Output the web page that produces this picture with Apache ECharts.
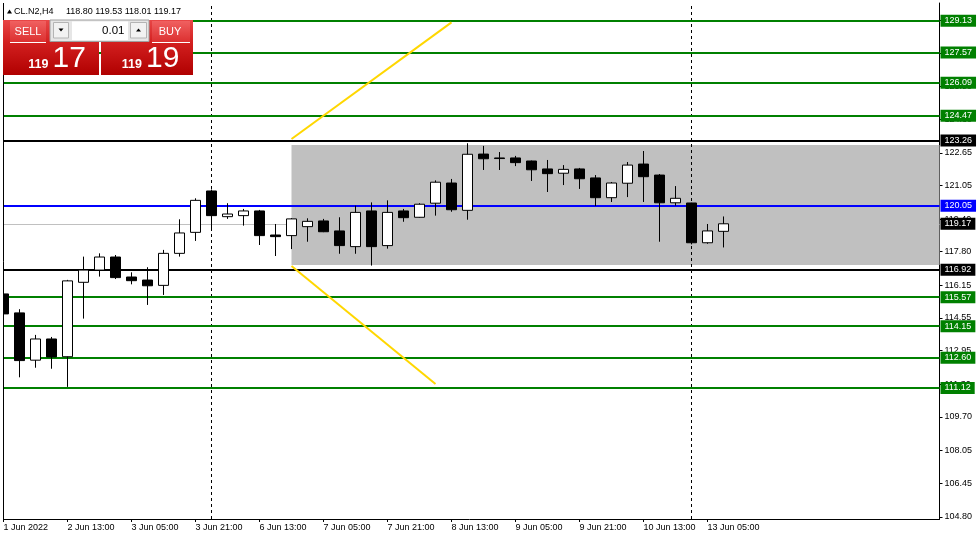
<!DOCTYPE html>
<html><head><meta charset="utf-8">
<script src="https://cdn.jsdelivr.net/npm/echarts@6/dist/echarts.min.js"></script>
<style>html,body{margin:0;padding:0;background:#fff}#c{width:979px;height:540px}</style>
</head><body><div id="c"></div>
<script>
// ---- data ----
const categories = [
 '1 Jun 21:00',
 '2 Jun 01:00','2 Jun 05:00','2 Jun 09:00','2 Jun 13:00','2 Jun 17:00','2 Jun 21:00',
 '3 Jun 01:00','3 Jun 05:00','3 Jun 09:00','3 Jun 13:00','3 Jun 17:00','3 Jun 21:00',
 '6 Jun 01:00','6 Jun 05:00','6 Jun 09:00','6 Jun 13:00','6 Jun 17:00','6 Jun 21:00',
 '7 Jun 01:00','7 Jun 05:00','7 Jun 09:00','7 Jun 13:00','7 Jun 17:00','7 Jun 21:00',
 '8 Jun 01:00','8 Jun 05:00','8 Jun 09:00','8 Jun 13:00','8 Jun 17:00','8 Jun 21:00',
 '9 Jun 01:00','9 Jun 05:00','9 Jun 09:00','9 Jun 13:00','9 Jun 17:00','9 Jun 21:00',
 '10 Jun 01:00','10 Jun 05:00','10 Jun 09:00','10 Jun 13:00','10 Jun 17:00','10 Jun 21:00',
 '13 Jun 01:00','13 Jun 05:00','13 Jun 09:00','13 Jun 13:00','13 Jun 17:00','13 Jun 21:00',
 '14 Jun 01:00','14 Jun 05:00','14 Jun 09:00','14 Jun 13:00','14 Jun 17:00','14 Jun 21:00',
 '15 Jun 01:00','15 Jun 05:00','15 Jun 09:00','15 Jun 13:00'
];
const opens  = [115.73,114.80,112.48,113.52,112.65,116.30,116.90,117.54,116.56,116.41,116.15,117.72,118.75,120.78,119.52,119.57,119.80,118.62,118.59,119.03,119.31,118.82,118.05,119.80,118.10,119.80,119.49,120.18,121.17,119.83,122.59,122.40,122.40,122.25,121.86,121.65,121.86,121.42,120.45,121.16,122.10,121.56,120.20,120.19,118.24,118.80];
const highs  = [116.12,114.98,113.72,113.62,116.42,117.56,117.72,117.64,116.79,117.04,117.89,119.39,120.42,120.85,120.18,119.90,119.85,119.16,119.45,119.44,119.41,119.49,120.06,120.22,120.32,119.90,120.18,121.30,121.37,123.12,122.99,122.69,122.50,122.27,122.30,122.05,121.91,121.56,121.22,122.20,122.74,121.61,121.02,120.20,119.16,119.53];
const lows   = [114.60,111.64,112.11,112.06,111.17,114.52,116.58,116.46,116.20,115.19,115.68,117.56,118.33,118.92,119.41,119.08,118.13,117.59,117.93,118.29,118.76,117.70,117.70,117.12,117.95,119.27,119.47,119.57,119.76,119.37,121.81,121.81,122.00,121.27,120.73,121.07,120.88,120.04,120.24,120.48,120.24,118.29,120.06,118.16,118.19,118.01];
const closes = [114.75,112.46,113.52,112.64,116.37,116.90,117.54,116.53,116.38,116.13,117.72,118.72,120.32,119.57,119.65,119.80,118.59,118.54,119.41,119.29,118.78,118.10,119.73,118.05,119.73,119.47,120.13,121.21,119.86,122.58,122.36,122.37,122.17,121.82,121.63,121.84,121.38,120.45,121.17,122.05,121.48,120.20,120.42,118.24,118.82,119.17];

const xTickIndex  = [0,4,8,12,16,20,24,28,32,36,40,44];
const xTickLabels = ['1 Jun 2022','2 Jun 13:00','3 Jun 05:00','3 Jun 21:00','6 Jun 13:00','7 Jun 05:00','7 Jun 21:00','8 Jun 13:00','9 Jun 05:00','9 Jun 21:00','10 Jun 13:00','13 Jun 05:00'];
const yTickValues = [104.80,106.45,108.05,109.70,111.30,112.95,114.55,116.15,117.80,119.40,121.05,122.65,124.30,125.90,127.55,129.15];

const greenLevels = [129.13,127.57,126.09,124.47,115.57,114.15,112.60,111.12];
const blackLevels = [123.26,116.92];
const blueLevel = 120.05;
const bidPrice = 119.17;
const askPrice = 119.19;
const boxStartIndex = 18;
const boxTop = 123.03;
const boxBottom = 117.15;
const separatorIndex = [13,43];
const trendUpper = [[18,123.33],[28,129.05]];
const trendLower = [[18,117.10],[27,111.31]];
const symbolTitle = 'CL.N2,H4';
const lastOHLC = [118.80,119.53,118.01,119.17];

// ---- chart ----
const FONT = 'Liberation Sans';
const chart = echarts.init(document.getElementById('c'), null, {renderer:'canvas'});
const candleData = opens.map((o,i)=>[o, closes[i], lows[i], highs[i]]);

const levelLines = [];
levelLines.push({yAxis: bidPrice, lineStyle:{color:'#c0c0c0', width:1, type:'solid'}, label:{backgroundColor:'#000'}});
greenLevels.forEach(v=>levelLines.push({yAxis:v, lineStyle:{color:'#008000', width:2, type:'solid'}, label:{backgroundColor:'#008000'}}));
blackLevels.forEach(v=>levelLines.push({yAxis:v, lineStyle:{color:'#000000', width:2, type:'solid'}, label:{backgroundColor:'#000'}}));
levelLines.push({yAxis: blueLevel, lineStyle:{color:'#0000ff', width:2, type:'solid'}, label:{backgroundColor:'#0000ff'}});

const redGrad = () => new echarts.graphic.LinearGradient(0,0,0,1,[{offset:0,color:'#e84646'},{offset:0.4,color:'#d32020'},{offset:1,color:'#b00000'}]);
const btnGrad = () => new echarts.graphic.LinearGradient(0,0,0,1,[{offset:0,color:'#f06060'},{offset:1,color:'#dc3030'}]);

const option = {
  animation: false,
  backgroundColor: '#ffffff',
  grid: {left: -4.5, right: 39.5, top: 3, bottom: 21, containLabel: false, outerBoundsMode: 'none'},
  xAxis: {
    type: 'category', data: categories, boundaryGap: true,
    axisLine: {show: true, lineStyle: {color:'#000', width:1}},
    axisTick: {show: true, alignWithLabel: true, length: 3, interval: (i)=>xTickIndex.includes(i), lineStyle:{color:'#000'}},
    axisLabel: {show: true, interval: (i)=>xTickIndex.includes(i), align:'left', margin: 4,
      formatter: (v,i)=>{const k = xTickIndex.indexOf(i); return k>=0 ? xTickLabels[k] : '';},
      color:'#000', fontSize: 9, fontFamily: FONT, hideOverlap: false},
    splitLine: {show:false}
  },
  yAxis: {
    type: 'value', position: 'right', min: 104.69, max: 130.0, scale: true,
    axisLine: {show: true, lineStyle: {color:'#000', width:1}},
    axisTick: {show: true, length: 3, customValues: yTickValues, lineStyle:{color:'#000'}},
    axisLabel: {show: true, customValues: yTickValues, formatter: v=>Number(v).toFixed(2), color:'#000', fontSize: 9, fontFamily: FONT, margin: 5},
    splitLine: {show:false}
  },
  series: [
    {
      type: 'line', data: [], z: 1, clip: false, silent: true,
      markArea: {
        silent: true, z: 1,
        itemStyle: {color:'#c0c0c0', opacity: 1},
        label: {show:false},
        data: [[{xAxis: categories[boxStartIndex], yAxis: boxTop}, {yAxis: boxBottom}]]
      },
      markLine: {
        silent: true, z: 1, symbol: ['none','none'],
        label: {show:false},
        lineStyle: {color:'#000', width:1, type:[3,3]},
        data: separatorIndex.map(i=>({xAxis: categories[i]}))
      }
    },
    {
      type: 'line', data: [], z: 2, clip: false, silent: true,
      markLine: {
        silent: true, z: 2, symbol: ['none','none'],
        label: {show:true, position:'end', distance: 1, color:'#fff', fontSize: 9, fontFamily: FONT,
                padding:[2,4,1,4], formatter: p=>Number(p.value).toFixed(2)},
        data: levelLines
      }
    },
    {
      type: 'line', data: [], z: 2, clip: false, silent: true,
      markLine: {
        silent: true, z: 2, symbol: ['none','none'],
        label: {show:false},
        lineStyle: {color:'#ffd700', width:2, type:'solid'},
        data: [
          [{coord:[categories[trendUpper[0][0]], trendUpper[0][1]]},{coord:[categories[trendUpper[1][0]], trendUpper[1][1]]}],
          [{coord:[categories[trendLower[0][0]], trendLower[0][1]]},{coord:[categories[trendLower[1][0]], trendLower[1][1]]}]
        ]
      }
    },
    {
      type: 'candlestick', data: candleData, z: 3, barWidth: 10, silent: true,
      itemStyle: {color:'#ffffff', color0:'#000000', borderColor:'#000000', borderColor0:'#000000', borderColorDoji:'#000000', borderWidth: 1}
    }
  ],
  graphic: [
    {type:'rect', z:100, silent:true, shape:{x:0,y:0,width:3,height:522}, style:{fill:'#fff'}},
    {type:'line', z:101, silent:true, shape:{x1:3.5,y1:3,x2:3.5,y2:519.5}, style:{stroke:'#000', lineWidth:1}},
    // title
    {type:'polygon', z:110, silent:true, shape:{points:[[7,13.5],[12,13.5],[9.5,9.5]]}, style:{fill:'#000'}},
    {type:'text', z:110, silent:true, x:14, y:11.5, style:{text:symbolTitle, font:'9px "Liberation Sans"', fill:'#000', verticalAlign:'middle'}},
    {type:'text', z:110, silent:true, x:66, y:11.5, style:{text:lastOHLC.map(v=>v.toFixed(2)).join(' '), font:'9px "Liberation Sans"', fill:'#000', verticalAlign:'middle'}},
    // sell panel
    {type:'rect', z:110, silent:true, shape:{x:3,y:20,width:96,height:55}, style:{fill:redGrad()}},
    {type:'rect', z:111, silent:true, shape:{x:10,y:21,width:36,height:21}, style:{fill:btnGrad()}},
    {type:'line', z:112, silent:true, shape:{x1:10,y1:42.5,x2:46,y2:42.5}, style:{stroke:'#fff', lineWidth:1}},
    {type:'text', z:112, silent:true, x:28, y:31.5, style:{text:'SELL', font:'11px "Liberation Sans"', fill:'#fff', align:'center', verticalAlign:'middle'}},
    // buy panel
    {type:'rect', z:110, silent:true, shape:{x:101,y:20,width:92,height:55}, style:{fill:redGrad()}},
    {type:'rect', z:111, silent:true, shape:{x:152,y:21,width:38,height:21}, style:{fill:btnGrad()}},
    {type:'line', z:112, silent:true, shape:{x1:152,y1:42.5,x2:190,y2:42.5}, style:{stroke:'#fff', lineWidth:1}},
    {type:'text', z:112, silent:true, x:170, y:31.5, style:{text:'BUY', font:'11px "Liberation Sans"', fill:'#fff', align:'center', verticalAlign:'middle'}},
    // lot control
    {type:'rect', z:113, silent:true, shape:{x:50,y:20,width:99,height:21.5}, style:{fill:'#e6e6e6', stroke:'#a0a0a0', lineWidth:1}},
    {type:'rect', z:114, silent:true, shape:{x:53.5,y:22.5,width:15,height:15.5}, style:{fill:'#f2f2f2', stroke:'#b4b4b4', lineWidth:1}},
    {type:'polygon', z:115, silent:true, shape:{points:[[58.5,28.5],[63.5,28.5],[61,31.5]]}, style:{fill:'#000'}},
    {type:'rect', z:114, silent:true, shape:{x:72,y:21.5,width:56,height:18.5}, style:{fill:'#ffffff'}},
    {type:'text', z:115, silent:true, x:124.5, y:30.5, style:{text:'0.01', font:'11.5px "Liberation Sans"', fill:'#000', align:'right', verticalAlign:'middle'}},
    {type:'rect', z:114, silent:true, shape:{x:130.5,y:22.5,width:16,height:15.5}, style:{fill:'#f2f2f2', stroke:'#b4b4b4', lineWidth:1}},
    {type:'polygon', z:115, silent:true, shape:{points:[[136,31.5],[141,31.5],[138.5,28.5]]}, style:{fill:'#000'}},
    // prices
    {type:'text', z:112, silent:true, x:48.5, y:64.5, style:{text:String(Math.floor(bidPrice)), font:'bold 12.5px "Liberation Sans"', fill:'#fff', align:'right', verticalAlign:'middle'}},
    {type:'text', z:112, silent:true, x:52.5, y:59, style:{text:bidPrice.toFixed(2).split('.')[1], font:'30px "Liberation Sans"', fill:'#fff', align:'left', verticalAlign:'middle'}},
    {type:'text', z:112, silent:true, x:142, y:64.5, style:{text:String(Math.floor(askPrice)), font:'bold 12.5px "Liberation Sans"', fill:'#fff', align:'right', verticalAlign:'middle'}},
    {type:'text', z:112, silent:true, x:146, y:59, style:{text:askPrice.toFixed(2).split('.')[1], font:'30px "Liberation Sans"', fill:'#fff', align:'left', verticalAlign:'middle'}}
  ]
};
chart.setOption(option);
</script>
</body></html>
